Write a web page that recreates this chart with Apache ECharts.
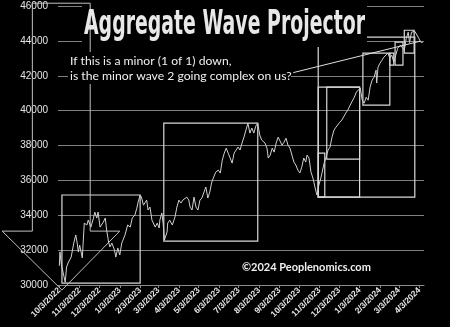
<!DOCTYPE html>
<html><head><meta charset="utf-8">
<script src="https://cdn.jsdelivr.net/npm/echarts@6.0.0/dist/echarts.min.js"></script>
<style>html,body{margin:0;padding:0;background:#000;}#c{width:450px;height:327px;}</style>
</head><body><div id="c"></div>
<script>
const dates = ['2022-10-03','2022-10-04','2022-10-06','2022-10-10','2022-10-12','2022-10-14','2022-10-17','2022-10-21','2022-10-25','2022-10-28','2022-10-30','2022-11-01','2022-11-03','2022-11-07','2022-11-10','2022-11-14','2022-11-16','2022-11-20','2022-11-24','2022-11-26','2022-11-29','2022-12-01','2022-12-04','2022-12-07','2022-12-09','2022-12-12','2022-12-14','2022-12-17','2022-12-19','2022-12-22','2022-12-26','2022-12-28','2022-12-31','2023-01-03','2023-01-06','2023-01-11','2023-01-15','2023-01-19','2023-01-22','2023-01-26','2023-01-29','2023-01-31','2023-02-03','2023-02-05','2023-02-08','2023-02-13','2023-02-15','2023-02-18','2023-02-21','2023-02-26','2023-03-01','2023-03-04','2023-03-05','2023-03-08','2023-03-10','2023-03-12','2023-03-16','2023-03-17','2023-03-20','2023-03-24','2023-03-28','2023-03-31','2023-04-03','2023-04-06','2023-04-09','2023-04-12','2023-04-15','2023-04-18','2023-04-20','2023-04-23','2023-04-26','2023-04-29','2023-05-02','2023-05-05','2023-05-08','2023-05-11','2023-05-14','2023-05-17','2023-05-20','2023-05-23','2023-05-26','2023-05-29','2023-06-02','2023-06-05','2023-06-08','2023-06-11','2023-06-14','2023-06-17','2023-06-20','2023-06-23','2023-06-26','2023-06-29','2023-07-02','2023-07-05','2023-07-08','2023-07-11','2023-07-14','2023-07-17','2023-07-20','2023-07-23','2023-07-26','2023-07-29','2023-08-01','2023-08-04','2023-08-07','2023-08-09','2023-08-12','2023-08-15','2023-08-17','2023-08-20','2023-08-23','2023-08-26','2023-08-29','2023-09-01','2023-09-04','2023-09-07','2023-09-10','2023-09-13','2023-09-16','2023-09-19','2023-09-22','2023-09-25','2023-09-28','2023-10-01','2023-10-04','2023-10-07','2023-10-10','2023-10-13','2023-10-15','2023-10-18','2023-10-21','2023-10-24','2023-10-27','2023-10-30','2023-11-02','2023-11-05','2023-11-07','2023-11-10','2023-11-13','2023-11-16','2023-11-19','2023-11-22','2023-11-25','2023-11-28','2023-12-01','2023-12-04','2023-12-07','2023-12-10','2023-12-13','2023-12-16','2023-12-19','2023-12-22','2023-12-26','2023-12-29','2024-01-01','2024-01-04','2024-01-07','2024-01-10','2024-01-13','2024-01-16','2024-01-19','2024-01-22','2024-01-25','2024-01-28','2024-01-29','2024-01-31','2024-02-03','2024-02-06','2024-02-09','2024-02-12','2024-02-15','2024-02-18','2024-02-21','2024-02-24','2024-02-27','2024-03-01','2024-03-05','2024-03-08','2024-03-11','2024-03-14','2024-03-17','2024-03-19','2024-03-22','2024-03-27','2024-03-30','2024-04-02','2024-04-05','2024-04-08'];
const values = [31100,31900,31200,30500,30150,31030,31320,31600,32400,32870,32460,31890,32290,31550,33550,33440,33720,33320,33840,34180,33840,34180,33320,33270,33610,33840,33150,32460,32180,32400,32000,31600,32120,31720,32400,32870,33440,33320,33840,34010,34410,34760,35160,35040,34580,34870,34300,34470,33720,33320,33550,33270,33720,34130,33550,32580,33040,33550,33720,33440,33900,34470,34870,34700,34870,34760,35040,34870,34470,34300,35040,34470,34300,34870,34990,35040,35620,34990,35330,35900,36190,36470,36590,36420,37160,37560,37850,37560,37280,36990,37560,37620,37910,37740,38140,38480,38880,39280,38710,39000,38710,39110,39280,38600,38310,38420,38140,37850,37280,37450,37850,37620,38140,38480,38420,38020,38190,38420,38020,37850,37450,37050,36880,36590,36420,36760,37280,37050,37450,37280,36470,36130,35620,35160,35730,36130,36470,36990,37330,37740,37910,38480,38880,39050,39000,39340,39460,39570,39860,40030,40140,40490,40770,41060,41170,41290,40600,40430,40770,40600,41350,41750,41920,42320,41580,42490,42720,42890,43070,43180,43300,43010,43180,42780,43180,43580,43750,43810,43470,44150,44500,43900,44500,44550,44610,44150,43930,43900];
const xTickDates = ['2022-10-03','2022-11-03','2022-12-03','2023-01-03','2023-02-03','2023-03-03','2023-04-03','2023-05-03','2023-06-03','2023-07-03','2023-08-03','2023-09-03','2023-10-03','2023-11-03','2023-12-03','2024-01-03','2024-02-03','2024-03-03','2024-04-03'];
const yMin = 30000, yMax = 46000, yStep = 2000;
// projection boxes: start date, end date, top value, bottom value
const boxStart = ['2022-10-07','2023-03-11','2023-11-01','2023-11-14','2023-11-01','2024-01-08','2024-02-18','2024-02-26','2024-03-11','2023-11-01'];
const boxEnd   = ['2023-02-03','2023-08-01','2024-01-03','2024-01-03','2023-11-11','2024-02-18','2024-02-24','2024-03-09','2024-03-26','2024-03-27'];
const boxTop   = [35160,39280,41350,41350,37560,43300,43300,43930,44610,44210];
const boxBottom= [30110,32520,35040,37220,35040,40320,42610,42610,43300,35040];
// trend line
const trendDates = ['2023-09-24','2024-04-04'];
const trendValues = [42180,43980];
// down arrow outline
const arrowDates = ['2022-08-23','2022-08-23','2022-07-08','2022-10-07','2023-01-03','2022-11-19','2022-11-19'];
const arrowValues = [46160,33090,33090,29710,33090,33090,46160];
const titleText = 'Aggregate Wave Projector';
const noteLines = ['If this is a minor (1 of 1) down,', 'is the minor wave 2 going complex on us?'];
const creditText = '\u00a92024 Peoplenomics.com';

const parseD = s => { const [y,m,d] = s.split('-').map(Number); return new Date(y, m-1, d).getTime(); };
const tickVals = xTickDates.map(parseD);
const chart = echarts.init(document.getElementById('c'), null, {renderer:'canvas'});

chart.setOption({
  backgroundColor:'#000',
  animation:false,
  grid:{left:58, right:26, top:6, bottom:42, containLabel:false, outerBoundsMode:'none'},
  xAxis:{
    type:'value', min:parseD('2022-10-01'), max:parseD('2024-04-10'),
    axisLine:{show:true, lineStyle:{color:'#8a8a8a', width:1}},
    axisTick:{show:true, customValues:tickVals, length:3, lineStyle:{color:'#8a8a8a'}},
    axisLabel:{customValues:tickVals, rotate:45, margin:4, fontSize:8.5, fontWeight:'bold', fontFamily:'Liberation Sans', color:'#e6e6e6',
      formatter: v => { const t = new Date(v); return (t.getMonth()+1)+'/'+t.getDate()+'/'+t.getFullYear(); }},
    splitLine:{show:false}
  },
  yAxis:{
    type:'value', min:yMin, max:yMax, interval:yStep,
    axisLine:{show:false}, axisTick:{show:false},
    axisLabel:{color:'#e6e6e6', fontSize:10, fontFamily:'Liberation Sans', margin:10, formatter: v => String(v)},
    splitLine:{lineStyle:{color:'#808080', width:1}}
  },
  series:[{
    type:'line', symbol:'none', showSymbol:false,
    data: dates.map((d,i)=>[parseD(d), values[i]]),
    lineStyle:{color:'#d0d0d0', width:1},
    markArea:{silent:true, itemStyle:{color:'rgba(0,0,0,0)', borderColor:'#d9d9d9', borderWidth:1.2},
      data: boxStart.map((s,i)=>[{xAxis:parseD(s), yAxis:boxTop[i]},{xAxis:parseD(boxEnd[i]), yAxis:boxBottom[i]}])},
    markLine:{silent:true, symbol:'none', label:{show:false}, lineStyle:{color:'#e0e0e0', width:1, type:'solid'},
      data:[[{coord:[parseD(trendDates[0]), trendValues[0]]},{coord:[parseD(trendDates[1]), trendValues[1]]}]]}
  }]
});

const cv = document.createElement('canvas').getContext('2d');
function measure(font, txt){ cv.font = font; return cv.measureText(txt).width; }

const arrowPts = arrowDates.map((d,i)=>chart.convertToPixel({gridIndex:0},[parseD(d), arrowValues[i]]));

const tFam = 'DejaVu Sans Condensed';
const tW = measure('bold 20px "'+tFam+'"', titleText);
const tSx = 281 / tW;
const nW = measure('13px Lato', noteLines[1]);
const nFs = 13 * 222 / nW;
const cW = measure('bold 13px Lato', creditText);
const cFs = 13 * 129 / cW;

chart.setOption({
  graphic:[
    {type:'rect', z:1, shape:{x:82, y:0, width:285, height:47}, style:{fill:'#000'}},
    {type:'polygon', z:3, shape:{points:arrowPts}, style:{fill:'none', stroke:'#c0c0c0', lineWidth:1}},
    {type:'rect', z:4, shape:{x:68, y:52, width:223, height:32}, style:{fill:'#000'}},
    {type:'text', z:5, x:84, y:25, scaleX:tSx, scaleY:1.65,
      style:{text:titleText, x:0, y:0, fontSize:20, fontWeight:'bold', fontFamily:tFam, fill:'#e8e8e8', textAlign:'left', textVerticalAlign:'middle'}},
    {type:'text', z:5, x:70, y:61.5, style:{text:noteLines[0], fontSize:nFs, fontFamily:'Lato', fill:'#f0f0f0', textAlign:'left', textVerticalAlign:'middle'}},
    {type:'text', z:5, x:70, y:76.5, style:{text:noteLines[1], fontSize:nFs, fontFamily:'Lato', fill:'#f0f0f0', textAlign:'left', textVerticalAlign:'middle'}},
    {type:'text', z:5, x:242, y:267, style:{text:creditText, fontSize:cFs, fontWeight:'bold', fontFamily:'Lato', fill:'#f0f0f0', textAlign:'left', textVerticalAlign:'middle'}}
  ]
});
</script></body></html>
